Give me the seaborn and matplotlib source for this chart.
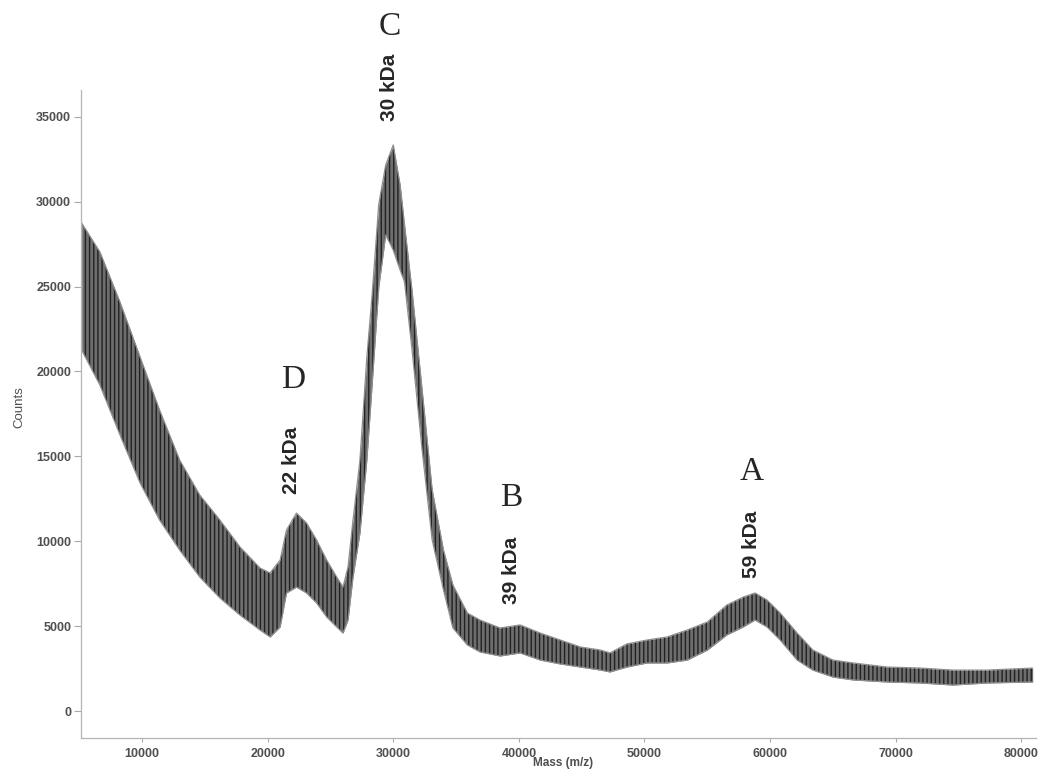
import numpy as np
import pandas as pd
import matplotlib
matplotlib.use("Agg")
import matplotlib.pyplot as plt
import seaborn as sns

# envelope of the noisy spectrum
mass = [5200, 6650, 8250, 9850, 11400, 13000, 14600, 16200, 17800, 19400,
        20200, 21000, 21500, 22300, 23100, 23900, 24700, 25500, 26000, 26400,
        26800, 27350, 27900, 28300, 28850, 29400, 30000, 30550, 30900, 31500,
        32300, 33100, 34000, 34750, 35900, 36900, 38500, 40100, 41700, 43300,
        44900, 46500, 47250, 48600, 50200, 51800, 53400, 55000, 56550, 57850,
        58800, 59750, 60800, 62150, 63400, 65000, 66600, 69300, 71950, 74550,
        77250, 80900]
upper = [28740, 27040, 24090, 20850, 17730, 14780, 12720, 11250, 9660, 8420,
         8130, 8890, 10660, 11660, 11070, 10070, 8890, 7890, 7300, 8480,
         11250, 14780, 20850, 24330, 29860, 32160, 33340, 30980, 28630, 24740,
         18910, 13020, 9480, 7420, 5770, 5360, 4890, 5070, 4590, 4180,
         3770, 3590, 3420, 3950, 4180, 4360, 4770, 5240, 6240, 6710,
         6950, 6540, 5770, 4590, 3590, 3000, 2830, 2590, 2530, 2410,
         2410, 2530]
lower = [21260, 19200, 16260, 13430, 11250, 9480, 7890, 6660, 5650, 4770,
         4360, 4950, 6950, 7300, 6950, 6360, 5540, 4950, 4590, 5360,
         7890, 10480, 14780, 19000, 24970, 28040, 27150, 25970, 25270, 21260,
         15370, 10070, 7130, 4890, 3890, 3480, 3240, 3420, 3000, 2770,
         2590, 2410, 2300, 2590, 2830, 2830, 3000, 3590, 4480, 4950,
         5360, 4950, 4180, 3000, 2410, 2000, 1830, 1710, 1650, 1530,
         1650, 1710]

peak_letters = ["C", "D", "B", "A"]
peak_labels = ["30 kDa", "22 kDa", "39 kDa", "59 kDa"]

xticks = [10000, 20000, 30000, 40000, 50000, 60000, 70000, 80000]
yticks = [0, 5000, 10000, 15000, 20000, 25000, 30000, 35000]

df = pd.DataFrame({"mass": mass, "upper": upper, "lower": lower})

sns.set_style("white")
plt.rcParams["font.family"] = ["Liberation Sans", "DejaVu Sans"]
plt.rcParams["hatch.linewidth"] = 1.0

fig = plt.figure(figsize=(10.42, 7.69), dpi=100)
ax = fig.add_axes([0.0777, 0.0403, 0.9165, 0.8427])

ax.fill_between(df["mass"], df["lower"], df["upper"], color="#6e6e6e", lw=0)
ax.fill_between(df["mass"], df["lower"], df["upper"], facecolor="none",
                edgecolor="#222222", hatch="||||", lw=0)
sns.lineplot(data=df, x="mass", y="upper", ax=ax, color="#8f8f8f", lw=0.9)
sns.lineplot(data=df, x="mass", y="lower", ax=ax, color="#8f8f8f", lw=0.9)

ax.set_xlim(5144, 81160)
ax.set_ylim(-1590, 36580)
ax.set_xticks(xticks)
ax.set_yticks(yticks)
ax.set_xticklabels([str(t) for t in xticks], fontweight="bold", fontsize=9, color="#4f4f4f")
ax.set_yticklabels([str(t) for t in yticks], fontweight="bold", fontsize=9, color="#4f4f4f")
ax.tick_params(axis="y", length=5, width=0.8, color="#aaaaaa", pad=2, left=True)
ax.tick_params(axis="x", length=3, width=0.8, color="#aaaaaa", pad=4, bottom=True)

for side in ["top", "right"]:
    ax.spines[side].set_visible(False)
for side in ["left", "bottom"]:
    ax.spines[side].set_color("#b4b4b4")
    ax.spines[side].set_linewidth(0.9)

ax.set_ylabel("Counts", fontsize=9.5, color="#4f4f4f")
ax.yaxis.set_label_coords(-0.058, 0.51)
ax.set_xlabel("Mass (m/z)", fontsize=8.5, fontweight="bold", color="#4f4f4f",
              va="bottom")
ax.xaxis.set_label_coords(0.505, -0.0485)

# peak letters and masses
letter_pos = [(29740, 40300), (22020, 19500), (39370, 12550), (58560, 14080)]
label_pos = [(29740, 36750), (21940, 14780), (39450, 8300), (58480, 9840)]
for txt, (x, y) in zip(peak_letters, letter_pos):
    ax.text(x, y, txt, ha="center", va="center", fontsize=24,
            family=["Liberation Serif", "DejaVu Serif"], clip_on=False)
for txt, (x, y) in zip(peak_labels, label_pos):
    ax.text(x, y, txt, ha="center", va="center", rotation=90, fontsize=15,
            fontweight="bold", clip_on=False)

fig.savefig("out.png", dpi=100)
